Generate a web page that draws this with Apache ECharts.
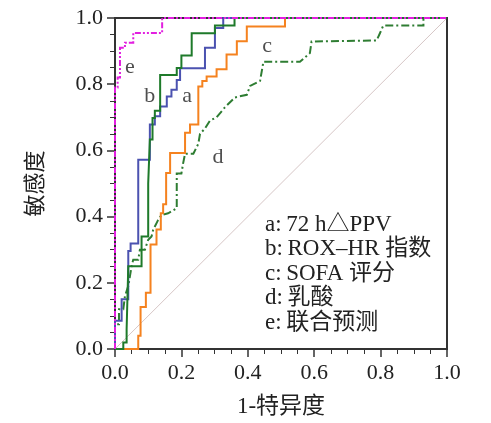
<!DOCTYPE html>
<html><head><meta charset="utf-8">
<script src="https://cdn.jsdelivr.net/npm/echarts@6/dist/echarts.min.js"></script>
<style>html,body{margin:0;padding:0;background:#fff}#c{width:491px;height:423px}</style>
</head><body><div id="c"></div>
<script>
// a: blue (72 h△PPV)
const curveA = [[0,0],[0,0.085],[0.02,0.085],[0.02,0.15],[0.04,0.15],[0.04,0.296],[0.047,0.296],[0.047,0.319],[0.07,0.319],[0.07,0.572],[0.105,0.572],[0.105,0.678],[0.12,0.678],[0.12,0.703],[0.136,0.703],[0.136,0.733],[0.156,0.733],[0.156,0.763],[0.17,0.763],[0.17,0.783],[0.186,0.783],[0.186,0.813],[0.196,0.813],[0.196,0.848],[0.271,0.848],[0.271,0.91],[0.301,0.91],[0.301,0.97],[0.326,0.97],[0.326,1],[1,1]];
// b: green solid (ROX-HR)
const curveB = [[0,0],[0.025,0],[0.025,0.02],[0.035,0.02],[0.035,0.06],[0.04,0.06],[0.04,0.25],[0.08,0.25],[0.08,0.34],[0.1,0.34],[0.1,0.5],[0.105,0.5],[0.105,0.633],[0.113,0.633],[0.113,0.698],[0.12,0.698],[0.12,0.72],[0.136,0.72],[0.136,0.828],[0.186,0.828],[0.186,0.849],[0.2,0.849],[0.2,0.887],[0.231,0.887],[0.231,0.954],[0.301,0.954],[0.301,0.977],[0.36,0.977],[0.36,1],[1,1]];
// c: orange (SOFA)
const curveC = [[0,0],[0.07,0],[0.07,0.04],[0.077,0.04],[0.077,0.127],[0.093,0.127],[0.093,0.17],[0.107,0.17],[0.107,0.316],[0.125,0.316],[0.125,0.361],[0.138,0.361],[0.138,0.41],[0.145,0.41],[0.145,0.437],[0.154,0.437],[0.154,0.532],[0.166,0.532],[0.166,0.592],[0.211,0.592],[0.211,0.653],[0.226,0.653],[0.226,0.678],[0.251,0.678],[0.251,0.793],[0.263,0.793],[0.263,0.81],[0.276,0.81],[0.276,0.823],[0.306,0.823],[0.306,0.845],[0.336,0.845],[0.336,0.89],[0.367,0.89],[0.367,0.93],[0.397,0.93],[0.397,0.974],[0.512,0.974],[0.512,1],[1,1]];
// d: green dash-dot (乳酸)
const curveD = [[0,0],[0,0.075],[0.012,0.075],[0.012,0.12],[0.025,0.12],[0.03,0.16],[0.04,0.19],[0.045,0.22],[0.05,0.25],[0.055,0.27],[0.07,0.27],[0.075,0.3],[0.09,0.3],[0.1,0.33],[0.11,0.34],[0.115,0.36],[0.13,0.39],[0.14,0.405],[0.16,0.41],[0.186,0.425],[0.186,0.53],[0.2,0.53],[0.205,0.56],[0.211,0.59],[0.236,0.59],[0.251,0.62],[0.256,0.65],[0.27,0.665],[0.286,0.69],[0.306,0.7],[0.331,0.73],[0.361,0.76],[0.397,0.768],[0.407,0.795],[0.437,0.81],[0.447,0.868],[0.557,0.868],[0.587,0.894],[0.592,0.929],[0.788,0.932],[0.798,0.954],[0.808,0.977],[0.929,0.977],[0.929,1],[1,1]];
// e: magenta (联合预测)
const curveE = [[0,0],[0,0.79],[0.008,0.79],[0.008,0.82],[0.015,0.82],[0.015,0.91],[0.03,0.91],[0.03,0.925],[0.055,0.925],[0.055,0.955],[0.142,0.955],[0.142,1],[1,1]];
const diagonal = [[0,0],[1,1]];
const curveLetters = ['a','b','c','d','e'];
const letterPos = [[0.217,0.765],[0.105,0.765],[0.458,0.916],[0.31,0.578],[0.045,0.85]];
const legendKeys = ['a','b','c','d','e'];
const legendNames = ['72 h△PPV','ROX–HR 指数','SOFA 评分','乳酸','联合预测'];

const FONT = '"Liberation Serif", "Noto Sans CJK SC", serif';
const chart = echarts.init(document.getElementById('c'));
const axisCommon = {
  type:'value', min:0, max:1, interval:0.2,
  axisLine:{show:true, onZero:false, lineStyle:{color:'#333', width:2}},
  axisTick:{show:true, length:8, inside:false, lineStyle:{color:'#333', width:1.5}},
  minorTick:{show:true, splitNumber:4, length:5, lineStyle:{color:'#333', width:1}},
  splitLine:{show:false},
  axisLabel:{color:'#222', fontFamily:FONT, fontSize:22, formatter:v=>v.toFixed(1)},
  nameLocation:'middle',
  nameTextStyle:{color:'#222', fontFamily:FONT}
};
function lineSeries(data, color, type, z, width){
  return {type:'line', data, showSymbol:false, symbol:'none', animation:false, z,
    lineStyle:{color, width:width||2, type, cap:'butt', join:'miter'}, emphasis:{disabled:true}};
}
chart.setOption({
  animation:false,
  grid:{left:115, right:44, top:18, bottom:73, show:true, borderColor:'#333', borderWidth:2, backgroundColor:'transparent'},
  xAxis:Object.assign({}, axisCommon, {name:'1-特异度', nameGap:46,
    nameTextStyle:{color:'#222', fontFamily:FONT, fontSize:23},
    axisLabel:Object.assign({}, axisCommon.axisLabel, {margin:13})}),
  yAxis:Object.assign({}, axisCommon, {name:'敏感度', nameGap:68, nameRotate:90,
    nameTextStyle:{color:'#222', fontFamily:FONT, fontSize:22},
    axisLabel:Object.assign({}, axisCommon.axisLabel, {margin:12})}),
  series:[
    lineSeries(diagonal,'#d6c6c6','solid',1,1),
    lineSeries(curveD,'#2e7d32',[8,3,2,3],2),
    lineSeries(curveC,'#f5821f','solid',3),
    lineSeries(curveA,'#4b52b0','solid',4),
    lineSeries(curveB,'#1e7a2a','solid',5),
    lineSeries(curveE,'#e21fe0',[6,2,2,2,2,2],6),
    {type:'scatter', symbolSize:0, animation:false, z:7, silent:true,
      data:letterPos.map((p,i)=>({value:p, name:curveLetters[i]})),
      label:{show:true, position:'inside', formatter:'{b}', color:'#222', fontFamily:FONT, fontSize:22}}
  ],
  graphic:legendKeys.map((k,i)=>({type:'text', left:265, top:213+i*24.6, z:10,
    style:{text:k+':\u2009'+legendNames[i], fill:'#222', font:'23px "Liberation Serif", "Noto Sans CJK SC", serif'}}))
});
</script></body></html>
